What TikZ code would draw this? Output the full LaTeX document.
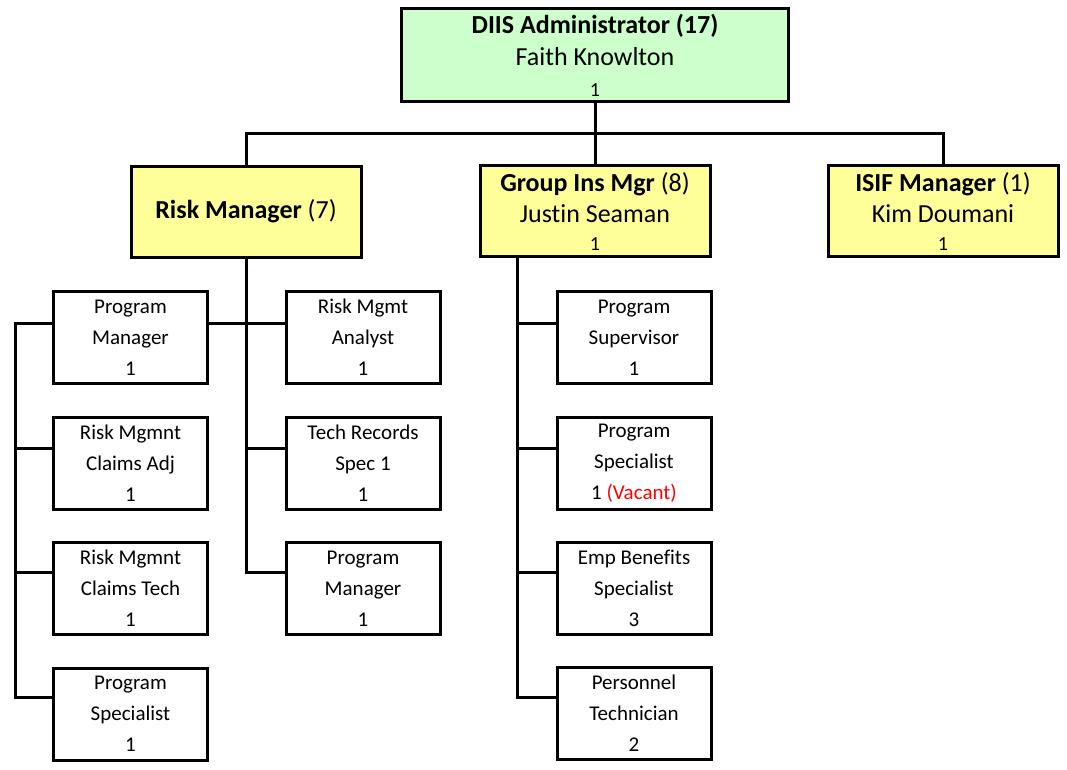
\documentclass[tikz,border=0pt]{standalone}
\usepackage{fontspec}
\setmainfont{Carlito}[Ligatures=NoCommon]
\usetikzlibrary{calc}
\definecolor{headgreen}{HTML}{CCFFCC}
\definecolor{headyellow}{HTML}{FFFF99}
\definecolor{vacantred}{HTML}{FF0000}
\begin{document}
\begin{tikzpicture}[x=1pt,y=-1pt,
  box/.style={draw=black,line width=3pt,rectangle,inner sep=0pt,align=center},
  topbox/.style={box,fill=headgreen,minimum width=387pt,minimum height=93pt,
    font=\fontsize{26}{32.5}\selectfont},
  mgrbox/.style={box,fill=headyellow,minimum width=230pt,minimum height=91pt,
    font=\fontsize{26}{31}\selectfont},
  staffbox/.style={box,fill=white,minimum width=154pt,minimum height=92pt,
    font=\fontsize{21}{31}\selectfont},
  link/.style={line width=3pt,line join=miter}]
\useasboundingbox (0,0) rectangle (1067,769);

% level rails
\coordinate (bar) at (0,133);
\coordinate (lbus) at (15,0);
\coordinate (r1) at (0,323);
\coordinate (r2) at (0,448);
\coordinate (r3) at (0,572);
\coordinate (r4) at (0,697);

% administrator and managers
\node[topbox] (adm) at (595,55) {\textbf{DIIS Administrator (17)}\\Faith Knowlton\\[-2pt]{\fontsize{20}{32.5}\selectfont 1}};
\node[mgrbox] (rm) at (246,211.5) {\textbf{Risk Manager} (7)};
\node[mgrbox] (gi) at (595,211) {\textbf{Group Ins Mgr} (8)\\Justin Seaman\\[-3pt]{\fontsize{20}{31}\selectfont 1}};
\node[mgrbox] (isif) at (943,211) {\textbf{ISIF Manager} (1)\\Kim Doumani\\[-3pt]{\fontsize{20}{31}\selectfont 1}};

% risk management staff
\node[staffbox] (pm1) at (130.5,337.5) {Program\\Manager\\1};
\node[staffbox] (rc1) at (130.5,463) {Risk Mgmnt\\Claims Adj\\1};
\node[staffbox] (rt1) at (130.5,588.5) {Risk Mgmnt\\Claims Tech\\1};
\node[staffbox] (ps1) at (130.5,714) {Program\\Specialist\\1};
\node[staffbox] (ra) at (363,337.5) {Risk Mgmt\\Analyst\\1};
\node[staffbox] (trs) at (363,463) {Tech Records\\Spec 1\\1};
\node[staffbox] (pm2) at (363,588.5) {Program\\Manager\\1};

% group insurance staff
\node[staffbox] (gps) at (634,337.5) {Program\\Supervisor\\1};
\node[staffbox] (gsp) at (634,463) {Program\\Specialist\\1 \textcolor{vacantred}{(Vacant)}};
\node[staffbox] (geb) at (634,588.5) {Emp Benefits\\Specialist\\3};
\node[staffbox] (gpt) at (634,713.5) {Personnel\\Technician\\2};

% administrator to managers
\draw[link] (adm.south) -- (adm.south |- bar);
\draw[link] (rm.north) -- (rm.north |- bar) -- (isif.north |- bar) -- (isif.north);
\draw[link] (gi.north) -- (gi.north |- bar);

% risk manager trunk
\draw[link] (rm.south) -- (rm.south |- r3) -- (pm2.west |- r3);
\draw[link] (pm1.east |- r1) -- (ra.west |- r1);
\draw[link] (rm.south |- r2) -- (trs.west |- r2);

% left staff column
\draw[link] (pm1.west |- r1) -- (lbus |- r1) -- (lbus |- r4) -- (ps1.west |- r4);
\draw[link] (lbus |- r2) -- (rc1.west |- r2);
\draw[link] (lbus |- r3) -- (rt1.west |- r3);

% group insurance trunk
\coordinate (gbus) at (517,0);
\draw[link] (gi.south -| gbus) -- (gbus |- r4) -- (gpt.west |- r4);
\draw[link] (gbus |- r1) -- (gps.west |- r1);
\draw[link] (gbus |- r2) -- (gsp.west |- r2);
\draw[link] (gbus |- r3) -- (geb.west |- r3);
\end{tikzpicture}
\end{document}
